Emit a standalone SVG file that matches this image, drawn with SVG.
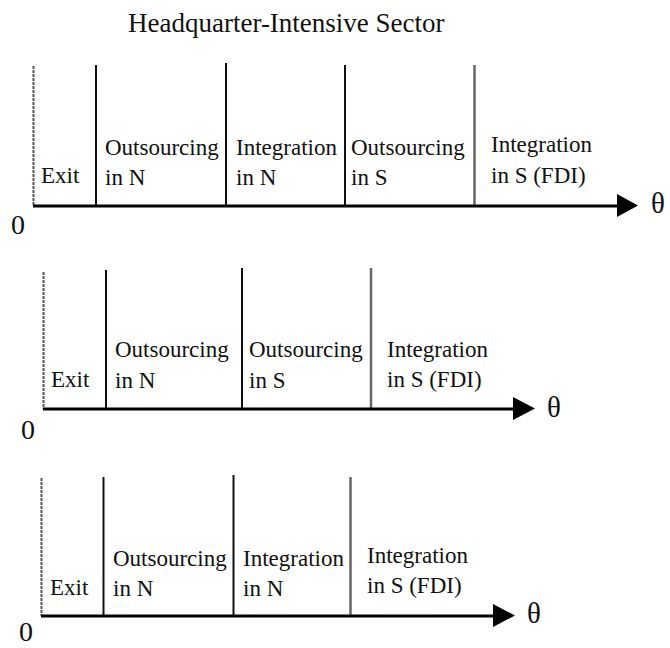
<svg xmlns="http://www.w3.org/2000/svg" width="670" height="648" viewBox="0 0 670 648">
  <style>
    .t { font-family: "Liberation Serif", "Times New Roman", serif; fill: #111; }
    .title { font-size: 27px; }
    .lbl { font-size: 23px; }
    .zero { font-size: 28px; }
    .theta { font-size: 29px; }
    .div { stroke: #111; stroke-width: 2; }
    .edge { stroke: #555; stroke-width: 2; stroke-dasharray: 3 1; }
    .last { stroke: #666; stroke-width: 2.5; }
    .axis { stroke: #000; stroke-width: 3.2; fill: none; }
    .head { fill: #000; }
  </style>

  <rect width="670" height="648" fill="#fff"/>

  <g font-family="Liberation Serif, Times New Roman, serif">
  <g id="title">
    <text class="t title" x="128" y="32">Headquarter-Intensive Sector</text>
  </g>

  <!-- Panel 1 -->
  <g id="panel1">
    <line class="edge" x1="33.5" y1="66" x2="33.5" y2="206"/>
    <line class="div" x1="96" y1="65" x2="96" y2="206"/>
    <line class="div" x1="226" y1="63" x2="226" y2="206"/>
    <line class="div" x1="345" y1="65" x2="345" y2="206"/>
    <line class="last" x1="474.5" y1="65" x2="474.5" y2="206"/>
    <g id="p1-exit"><text class="t lbl" x="41" y="183">Exit</text></g>
    <g id="p1-outN"><text class="t lbl" x="105" y="155">Outsourcing</text><text class="t lbl" x="105" y="185">in N</text></g>
    <g id="p1-intN"><text class="t lbl" x="236" y="155">Integration</text><text class="t lbl" x="236" y="185">in N</text></g>
    <g id="p1-outS"><text class="t lbl" x="351" y="155">Outsourcing</text><text class="t lbl" x="351" y="185">in S</text></g>
    <g id="p1-intS"><text class="t lbl" x="491" y="152">Integration</text><text class="t lbl" x="491" y="183">in S (FDI)</text></g>
    <text class="t zero" x="11" y="234">0</text>
    <text class="t theta" x="651" y="213">θ</text>
  </g>

  <!-- Panel 2 -->
  <g id="panel2">
    <line class="edge" x1="43.5" y1="272" x2="43.5" y2="409"/>
    <line class="div" x1="106" y1="270" x2="106" y2="409"/>
    <line class="div" x1="242" y1="268" x2="242" y2="409"/>
    <line class="last" x1="371" y1="268" x2="371" y2="409"/>
    <g id="p2-exit"><text class="t lbl" x="51" y="387">Exit</text></g>
    <g id="p2-outN"><text class="t lbl" x="115" y="357">Outsourcing</text><text class="t lbl" x="115" y="388">in N</text></g>
    <g id="p2-outS"><text class="t lbl" x="249" y="357">Outsourcing</text><text class="t lbl" x="249" y="388">in S</text></g>
    <g id="p2-intS"><text class="t lbl" x="387" y="357">Integration</text><text class="t lbl" x="387" y="387">in S (FDI)</text></g>
    <text class="t zero" x="21" y="439">0</text>
    <text class="t theta" x="547" y="417">θ</text>
  </g>

  <!-- Panel 3 -->
  <g id="panel3">
    <line class="edge" x1="41.5" y1="478" x2="41.5" y2="616"/>
    <line class="div" x1="103.5" y1="477" x2="103.5" y2="616"/>
    <line class="div" x1="233.5" y1="475" x2="233.5" y2="616"/>
    <line class="last" x1="350.5" y1="477" x2="350.5" y2="616"/>
    <g id="p3-exit"><text class="t lbl" x="50" y="595">Exit</text></g>
    <g id="p3-outN"><text class="t lbl" x="113" y="566">Outsourcing</text><text class="t lbl" x="113" y="596">in N</text></g>
    <g id="p3-intN"><text class="t lbl" x="243" y="566">Integration</text><text class="t lbl" x="243" y="596">in N</text></g>
    <g id="p3-intS"><text class="t lbl" x="367" y="563">Integration</text><text class="t lbl" x="367" y="593">in S (FDI)</text></g>
    <text class="t zero" x="19" y="641">0</text>
    <text class="t theta" x="527" y="623">θ</text>
  </g>
  </g>

  <!-- Axes (connectors) -->
  <g id="connectors">
    <line class="axis" x1="33" y1="206" x2="620" y2="206"/>
    <polygon class="head" points="617,194 638,205.5 617,217"/>
    <line class="axis" x1="43" y1="409" x2="515" y2="409"/>
    <polygon class="head" points="513,397 535,408.5 513,420"/>
    <line class="axis" x1="41" y1="616" x2="495" y2="616"/>
    <polygon class="head" points="493,604 515,615.5 493,627"/>
  </g>
</svg>
